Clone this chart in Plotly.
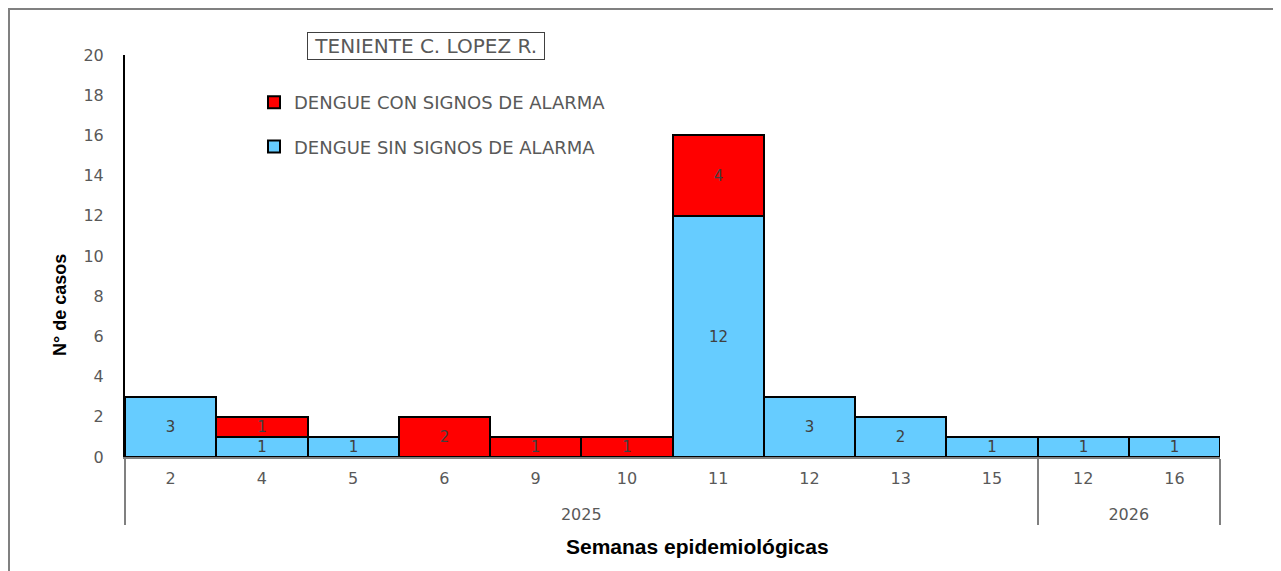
import plotly.graph_objects as go

years = ["2025"] * 10 + ["2026"] * 2
weeks = ["2", "4", "5", "6", "9", "10", "11", "12", "13", "15", "12", "16"]
sin_signos = [3, 1, 1, None, None, None, 12, 3, 2, 1, 1, 1]
con_signos = [None, 1, None, 2, 1, 1, 4, None, None, None, None, None]
y_ticks = list(range(0, 21, 2))

OFF = 8  # page body margin
W, H = 1281 - OFF, 571 - OFF
ML, MR, MT, MB = 125 - OFF, 61, 55 - OFF, 114
pw, ph = W - ML - MR, H - MT - MB

def px2x(p):  # screen px -> paper x
    return (p - OFF - ML) / pw

def px2y(p):  # screen px -> paper y
    return 1 - (p - OFF - MT) / ph

def labels(vals):
    return ["" if v is None else str(v) for v in vals]

# inner labels get an empty second line so the year row sits lower
week_lbls = [w + "<br> " for w in weeks]
x_cats = [years, week_lbls]

lbl_font = dict(color="#404040", size=15, family="DejaVu Sans")

fig = go.Figure()
fig.add_trace(go.Bar(
    x=x_cats, y=sin_signos, name="DENGUE SIN SIGNOS DE ALARMA",
    marker=dict(color="#66CCFF", line=dict(color="black", width=2)),
    text=labels(sin_signos), textposition="inside", insidetextanchor="middle",
    textangle=0, constraintext="none", textfont=lbl_font,
    legendgroup="b", legendrank=2,
))
fig.add_trace(go.Bar(
    x=x_cats, y=con_signos, name="DENGUE CON SIGNOS DE ALARMA",
    marker=dict(color="#FF0000", line=dict(color="black", width=2)),
    text=labels(con_signos), textposition="inside", insidetextanchor="middle",
    textangle=0, constraintext="none", textfont=lbl_font,
    legendgroup="a", legendrank=1,
))

fig.update_layout(
    width=W, height=H,
    margin=dict(l=ML, r=MR, t=MT, b=MB, autoexpand=False),
    barmode="stack", bargap=0,
    plot_bgcolor="white", paper_bgcolor="white",
    showlegend=True,
    legend=dict(
        x=px2x(254), y=px2y(84), xanchor="left", yanchor="top",
        traceorder="grouped", tracegroupgap=18,
        font=dict(family="DejaVu Sans", size=18, color="#595959"),
        bgcolor="rgba(0,0,0,0)",
    ),
    xaxis=dict(
        showline=True, linecolor="#808080", linewidth=2,
        showdividers=True, dividercolor="#808080", dividerwidth=2,
        tickfont=dict(family="DejaVu Sans", size=16, color="#595959"),
        ticklabelstandoff=6, ticks="",
        showgrid=False,
    ),
    yaxis=dict(
        range=[0, 20], tickvals=y_ticks,
        showline=True, linecolor="black", linewidth=2,
        showgrid=False, zeroline=False, ticks="",
        ticklabelstandoff=16,
        tickfont=dict(family="DejaVu Sans", size=16, color="#595959"),
    ),
    annotations=[
        dict(
            text="\u00a0TENIENTE C. LOPEZ R.\u00a0", xref="paper", yref="paper",
            x=px2x(425.5), y=px2y(45.5), xanchor="center", yanchor="middle",
            showarrow=False,
            font=dict(family="DejaVu Sans", size=20, color="#595959"),
            bordercolor="#404040", borderwidth=1, borderpad=1, bgcolor="white",
        ),
        dict(
            text="<b>Semanas epidemiológicas</b>", xref="paper", yref="paper",
            x=px2x(697), y=px2y(546), xanchor="center", yanchor="middle",
            showarrow=False,
            font=dict(family="Liberation Sans", size=21, color="black"),
        ),
        dict(
            text="<b>N° de casos</b>", xref="paper", yref="paper",
            x=px2x(60), y=px2y(305), xanchor="center", yanchor="middle",
            textangle=-90, showarrow=False,
            font=dict(family="Liberation Sans", size=18, color="black"),
        ),
    ],
    shapes=[dict(
        type="rect", xref="paper", yref="paper",
        x0=px2x(9), x1=px2x(1290), y0=px2y(580), y1=px2y(9),
        line=dict(color="#808080", width=2), layer="below",
    )],
)

fig.write_html("out.html")
